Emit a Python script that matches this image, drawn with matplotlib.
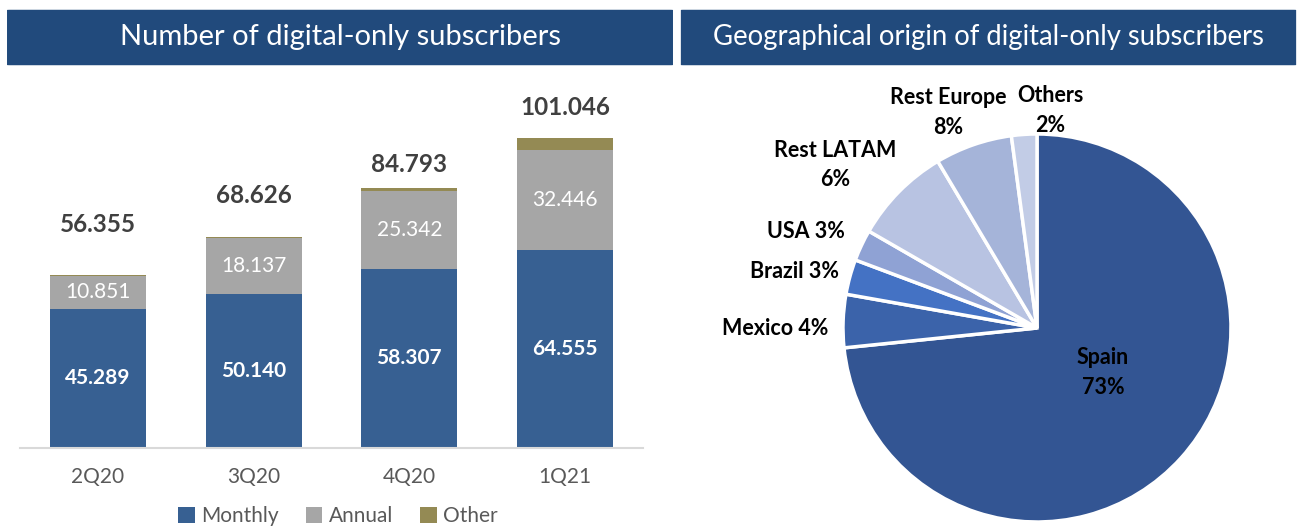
import numpy as np
import matplotlib
matplotlib.use("Agg")
import matplotlib.pyplot as plt
from matplotlib.patches import FancyBboxPatch

plt.rcParams['font.family'] = ['Lato', 'DejaVu Sans']

# DATOS - SUSCRIPTORES (miles)
trimestres = ['2Q20', '3Q20', '4Q20', '1Q21']
mensual = [45.289, 50.140, 58.307, 64.555]
anual = [10.851, 18.137, 25.342, 32.446]
otros = [0.215, 0.349, 1.144, 4.045]
totales = ['56.355', '68.626', '84.793', '101.046']
etiq_mensual = ['45.289', '50.140', '58.307', '64.555']
etiq_anual = ['10.851', '18.137', '25.342', '32.446']

# DATOS - ORIGEN GEOGRAFICO (% del circulo)
regiones = ['Spain', 'Mexico', 'Brazil', 'USA', 'Rest LATAM', 'Rest Europe', 'Others']
cuota = [73.0, 4.4, 2.9, 2.6, 8.1, 6.4, 2.1]
etiq_regiones = ['Spain\n73%', 'Mexico 4%', 'Brazil 3%', 'USA 3%',
                 'Rest LATAM\n6%', 'Rest Europe\n8%', 'Others\n2%']

# ESTILOS
azul_cab = '#214a7c'
c_mensual = '#376092'
c_anual = '#a6a6a6'
c_otros = '#948a54'
colores_pie = ['#335593', '#3b63aa', '#4472c4', '#8fa2d4', '#b8c3e2', '#a5b4d9', '#c2cce6']
pos_etiq = [(0.34, -0.23), (-1.35, 0.0), (-1.25, 0.29), (-1.19, 0.50),
            (-1.04, 0.84), (-0.46, 1.11), (0.07, 1.12)]
desfase_total = [36, 30, 17, 22]

W, H = 1301, 529
fig = plt.figure(figsize=(W / 100, H / 100), dpi=100)

def caja(x0, y0, x1, y1, texto, tam):
    ax = fig.add_axes([x0 / W, 1 - y1 / H, (x1 - x0) / W, (y1 - y0) / H])
    ax.set_xlim(0, 1)
    ax.set_ylim(0, 1)
    ax.axis('off')
    ax.add_patch(FancyBboxPatch((0.003, 0.03), 0.994, 0.94,
                                boxstyle='round,pad=0,rounding_size=0.004',
                                facecolor=azul_cab, edgecolor='none'))
    ax.text(0.5, 0.5, texto, color='white', fontsize=tam, ha='center', va='center')

caja(5, 8, 675, 67, 'Number of digital-only subscribers', 21)
caja(679, 8, 1298, 67, 'Geographical origin of digital-only subscribers', 19.8)

# BARRAS APILADAS
ax1 = fig.add_axes([20 / W, 1 - 448 / H, 623 / W, 358 / H])
x = np.arange(len(trimestres))
ancho = 0.615
b1 = ax1.bar(x, mensual, ancho, color=c_mensual, label='Monthly')
b2 = ax1.bar(x, anual, ancho, bottom=mensual, color=c_anual, label='Annual')
base_otros = np.array(mensual) + np.array(anual)
b3 = ax1.bar(x, otros, ancho, bottom=base_otros, color=c_otros, label='Other')
ax1.set_xlim(-0.5, 3.5)
ax1.set_ylim(0, 116.6)

for i in range(len(trimestres)):
    ax1.text(x[i], mensual[i] / 2, etiq_mensual[i], color='white', fontsize=15,
             fontweight='bold', ha='center', va='center')
    ax1.text(x[i], mensual[i] + anual[i] / 2, etiq_anual[i], color='white', fontsize=15,
             ha='center', va='center')
    ax1.annotate(totales[i], (x[i], base_otros[i] + otros[i]), xytext=(0, desfase_total[i]),
                 textcoords='offset points', ha='center', va='center', fontsize=17.5,
                 fontweight='bold', color='#404040')

for lado in ['top', 'right', 'left']:
    ax1.spines[lado].set_visible(False)
ax1.spines['bottom'].set_color('#d9d9d9')
ax1.spines['bottom'].set_linewidth(1.5)
ax1.set_yticks([])
ax1.set_xticks(x)
ax1.set_xticklabels(trimestres, fontsize=15, color='#595959')
ax1.tick_params(axis='x', length=0, pad=14)
ax1.legend(loc='center', bbox_to_anchor=(0.51, -0.19), ncol=3, frameon=False,
           fontsize=15, handlelength=0.8, handleheight=0.8, handletextpad=0.3,
           columnspacing=1.3, labelcolor='#595959')

# CIRCULO
r = 194
cx, cy = 1037, 328
ax2 = fig.add_axes([(cx - 1.5 * r) / W, 1 - (cy + 1.5 * r) / H, 3 * r / W, 3 * r / H])
ax2.pie(cuota, colors=colores_pie, startangle=90, counterclock=False,
        wedgeprops=dict(edgecolor='white', linewidth=2.5))
ax2.set_xlim(-1.5, 1.5)
ax2.set_ylim(-1.5, 1.5)
for (px, py), t in zip(pos_etiq, etiq_regiones):
    ax2.text(px, py, t, ha='center', va='center', fontsize=15.5, fontweight='bold',
             color='black', linespacing=1.5)

fig.savefig('out.png', dpi=100)
